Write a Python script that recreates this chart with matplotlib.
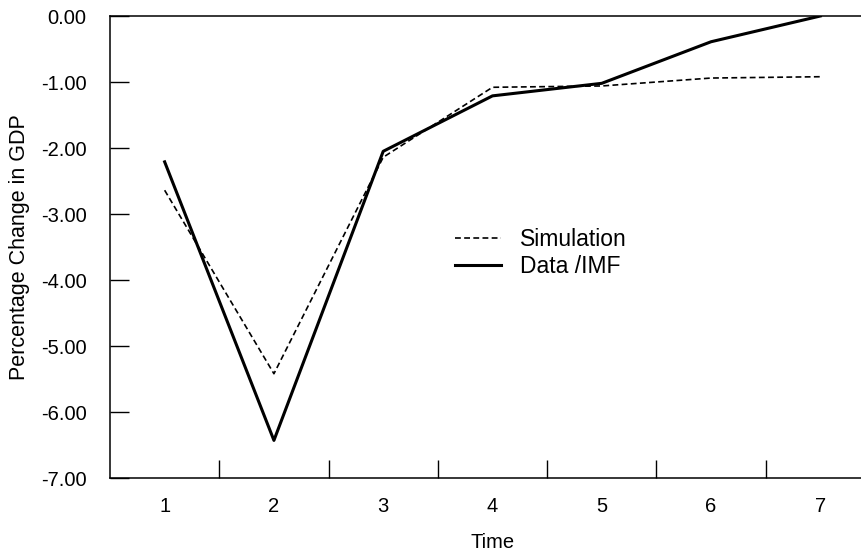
import numpy as np
import matplotlib.pyplot as plt
from matplotlib.ticker import FixedLocator, FormatStrFormatter

plt.rcParams['font.family'] = ['Liberation Sans', 'DejaVu Sans']

time = [1, 2, 3, 4, 5, 6, 7]
simulation = [-2.64, -5.42, -2.14, -1.08, -1.06, -0.94, -0.92]
data_imf = [-2.21, -6.43, -2.05, -1.21, -1.02, -0.39, 0.00]

fig = plt.figure(figsize=(8.62, 5.53), dpi=100)
ax = fig.add_axes([110 / 862, 75 / 553, 765 / 862, 462 / 553])

ax.plot(time, simulation, color='black', linestyle=(0, (3.5, 2)), linewidth=1.2, label='Simulation')
ax.plot(time, data_imf, color='black', linestyle='-', linewidth=2.2, label='Data /IMF')

ax.set_xlim(0.5, 7.5)
ax.set_ylim(-7, 0)
ax.set_xticks(time)
ax.xaxis.set_minor_locator(FixedLocator([1.5, 2.5, 3.5, 4.5, 5.5, 6.5]))
ax.tick_params(axis='x', which='major', length=0, pad=14, labelsize=14.5)
ax.tick_params(axis='x', which='minor', direction='in', length=13, width=1)
ax.set_yticks(np.arange(-7, 0.5, 1))
ax.yaxis.set_major_formatter(FormatStrFormatter('%.2f'))
ax.tick_params(axis='y', direction='in', length=14, width=1, labelsize=14.5, pad=17)
for s in ax.spines.values():
    s.set_linewidth(1.1)
ax.spines['right'].set_visible(False)

ax.set_xlabel('Time', fontsize=14.5, labelpad=12)
ax.set_ylabel('Percentage Change in GDP', fontsize=15.5, labelpad=8)

ax.legend(loc='center left', bbox_to_anchor=(455 / 862, 1 - 253 / 553), bbox_transform=fig.transFigure,
          frameon=False, fontsize=16.5, handlelength=2.0, handletextpad=0.85, labelspacing=0.15,
          borderpad=0, borderaxespad=0)

fig.savefig('out.png', dpi=100)
